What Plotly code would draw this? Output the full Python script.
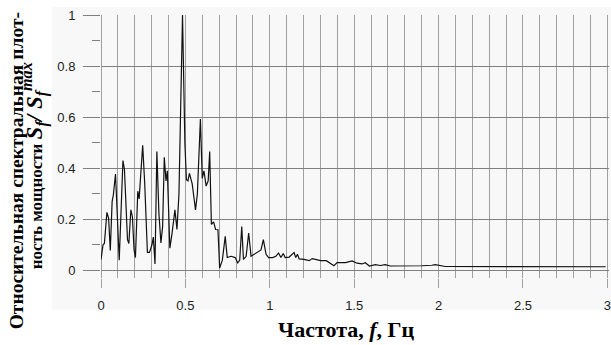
import plotly.graph_objects as go

# Frequency, Hz
freq = [0.000, 0.012, 0.020, 0.035, 0.045, 0.055, 0.066, 0.073, 0.086, 0.097,
        0.108, 0.130, 0.139, 0.157, 0.165, 0.177, 0.186, 0.196, 0.204, 0.218,
        0.226, 0.236, 0.247, 0.259, 0.275, 0.287, 0.302, 0.310, 0.320, 0.331,
        0.343, 0.355, 0.365, 0.375, 0.385, 0.393, 0.408, 0.420, 0.438, 0.450,
        0.462, 0.483, 0.497, 0.506, 0.515, 0.524, 0.533, 0.540, 0.560, 0.571,
        0.589, 0.600, 0.610, 0.623, 0.635, 0.644, 0.654, 0.667, 0.679, 0.693,
        0.703, 0.719, 0.736, 0.748, 0.771, 0.795, 0.810, 0.822, 0.834, 0.844,
        0.860, 0.875, 0.889, 0.919, 0.948, 0.962, 0.978, 0.993, 1.017, 1.036,
        1.052, 1.066, 1.080, 1.091, 1.115, 1.144, 1.154, 1.164, 1.174, 1.203,
        1.233, 1.252, 1.276, 1.301, 1.335, 1.360, 1.380, 1.399, 1.449, 1.488,
        1.517, 1.547, 1.566, 1.590, 1.625, 1.655, 1.684, 1.714, 1.802, 1.900,
        1.960, 1.980, 2.040, 2.100, 2.200, 2.300, 2.400, 2.500, 2.600, 2.700,
        2.800, 2.900, 2.990]

# Relative spectral power density S_f / S_f^max
psd = [0.042, 0.100, 0.105, 0.227, 0.205, 0.078, 0.270, 0.295, 0.377, 0.220,
       0.040, 0.430, 0.395, 0.120, 0.105, 0.237, 0.210, 0.080, 0.050, 0.310,
       0.280, 0.380, 0.490, 0.340, 0.070, 0.070, 0.100, 0.130, 0.025, 0.465,
       0.225, 0.107, 0.170, 0.443, 0.350, 0.390, 0.087, 0.140, 0.237, 0.160,
       0.300, 1.000, 0.500, 0.355, 0.350, 0.380, 0.350, 0.340, 0.237, 0.300,
       0.593, 0.360, 0.390, 0.330, 0.350, 0.465, 0.180, 0.190, 0.160, 0.159,
       0.009, 0.040, 0.133, 0.050, 0.055, 0.050, 0.029, 0.040, 0.172, 0.043,
       0.055, 0.146, 0.055, 0.068, 0.080, 0.120, 0.063, 0.050, 0.050, 0.055,
       0.068, 0.050, 0.066, 0.050, 0.052, 0.070, 0.050, 0.063, 0.045, 0.043,
       0.038, 0.046, 0.042, 0.038, 0.038, 0.026, 0.018, 0.030, 0.030, 0.037,
       0.028, 0.025, 0.030, 0.017, 0.022, 0.019, 0.022, 0.017, 0.017, 0.018,
       0.020, 0.022, 0.015, 0.015, 0.014, 0.015, 0.014, 0.014, 0.015, 0.014,
       0.014, 0.014, 0.014]

x_ticks = [0, 0.5, 1, 1.5, 2, 2.5, 3]
x_ticklabels = ["0", "0.5", "1", "1.5", "2", "2.5", "3"]
y_ticks = [0, 0.2, 0.4, 0.6, 0.8, 1]
y_ticklabels = ["0", "0.2", "0.4", "0.6", "0.8", "1"]

x_title = "Частота, <i>f</i>, Гц"
y_title_1 = "Относительная спектральная плот-"
y_title_2 = ("ность мощности <span style='font-size:23px'><i>S<sub>f</sub>/ "
             "S<sub>f</sub><sup>max</sup></i></span>")

VGRID = "#a0a0a0"
HGRID = "#808080"
TICKFONT = dict(family="Liberation Sans, Arial, sans-serif", size=13, color="#222222")
SERIF = "Liberation Serif, Times New Roman, serif"

fig = go.Figure()
fig.add_trace(go.Scatter(x=freq, y=psd, mode="lines",
                         line=dict(color="#111111", width=1.2),
                         showlegend=False, hoverinfo="skip"))

fig.update_layout(
    width=611, height=345,
    margin=dict(l=101, r=0, t=15, b=67),
    paper_bgcolor="white",
    plot_bgcolor="rgba(0,0,0,0)",
    showlegend=False,
    xaxis=dict(range=[0, 3.01], tickvals=x_ticks, ticktext=x_ticklabels,
               showgrid=True, gridcolor=VGRID, gridwidth=1,
               zeroline=True, zerolinecolor=VGRID, zerolinewidth=1,
               ticks="outside", ticklen=9, tickcolor=VGRID, tickwidth=1,
               ticklabelstandoff=6, ticklabeloverflow="allow",
               showline=False, tickfont=TICKFONT,
               minor=dict(dtick=0.1, tick0=0, showgrid=True, gridcolor=VGRID,
                          gridwidth=1, ticks="")),
    yaxis=dict(range=[-0.03, 1.0], tickvals=y_ticks, ticktext=y_ticklabels,
               showgrid=True, gridcolor=HGRID, gridwidth=1,
               zeroline=True, zerolinecolor=HGRID, zerolinewidth=1,
               ticks="outside", ticklen=17, tickcolor=HGRID, tickwidth=1,
               ticklabelstandoff=5,
               showline=False, tickfont=TICKFONT,
               minor=dict(dtick=0.1, tick0=0, ticks="outside", ticklen=8,
                          tickcolor=HGRID, tickwidth=1, showgrid=False)),
    shapes=[dict(type="rect", xref="paper", yref="paper",
                 x0=-0.0963, x1=1.01, y0=-0.1217, y1=1.0304,
                 fillcolor="#f8f8f8", line=dict(width=0), layer="below")],
    annotations=[
        dict(text="<b>" + x_title + "</b>", xref="paper", yref="paper",
             x=(347.5 - 101) / 510, y=(278 - 329) / 263, showarrow=False,
             xanchor="center", yanchor="middle",
             font=dict(family=SERIF, size=22, color="#000000")),
        dict(text="<b>" + y_title_1 + "</b>", xref="paper", yref="paper",
             x=(16 - 101) / 510, y=(278 - 171) / 263, showarrow=False,
             textangle=-90, xanchor="center", yanchor="middle",
             font=dict(family=SERIF, size=19.5, color="#000000")),
        dict(text="<b>" + y_title_2 + "</b>", xref="paper", yref="paper",
             x=(34 - 101) / 510, y=(278 - 166) / 263, showarrow=False,
             textangle=-90, xanchor="center", yanchor="middle",
             font=dict(family=SERIF, size=17, color="#000000")),
    ],
)

fig.write_html("out.html")
